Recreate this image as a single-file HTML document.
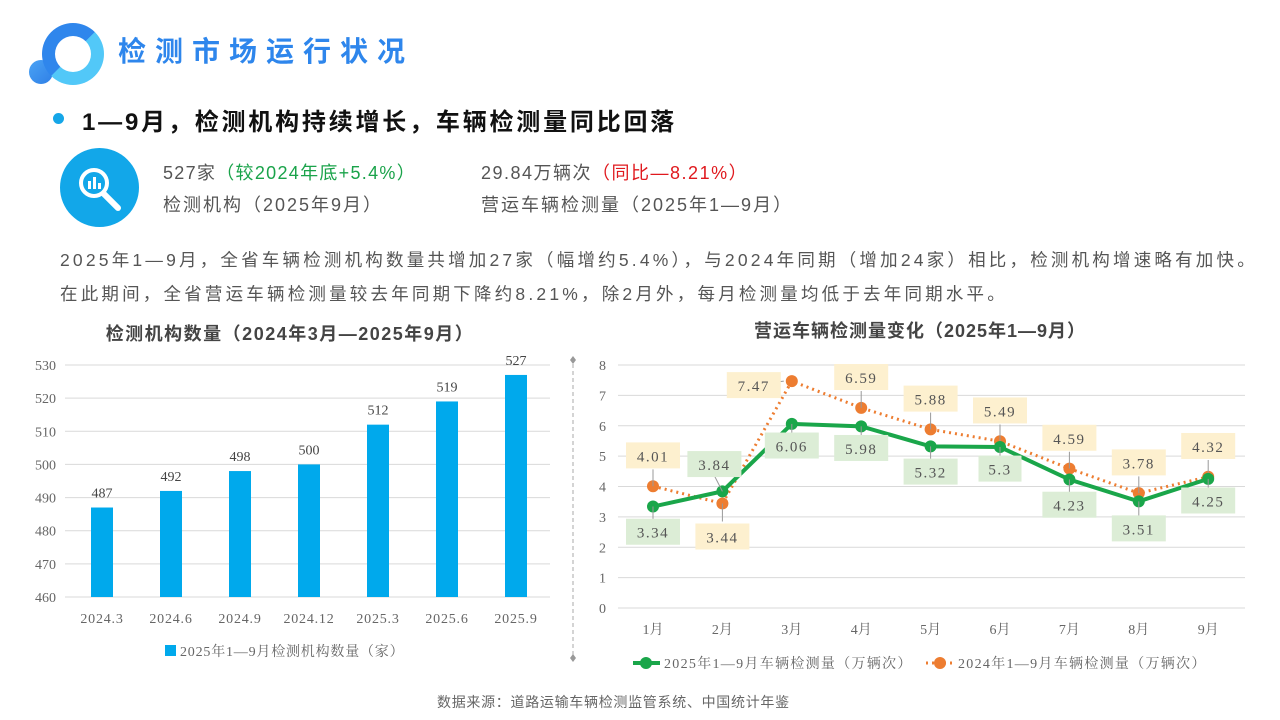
<!DOCTYPE html>
<html><head><meta charset="utf-8">
<style>
body{margin:0;width:1280px;height:720px;background:#fff;position:relative;overflow:hidden;font-family:"Liberation Sans","Noto Sans CJK SC",sans-serif;}
.abs{position:absolute;white-space:nowrap;}
</style></head><body>
<div class="abs" style="left:29px;top:60px;width:24px;height:24px;border-radius:50%;background:linear-gradient(135deg,#4aa3f5,#2f7fe6);"></div>
<div class="abs" style="left:42px;top:23px;width:36px;height:36px;border-radius:50%;border:13px solid #3a9cf0;background:#fff;border-color:#2f86ec #52c8f8 #52c8f8 #2f86ec;"></div>
<div class="abs" style="left:118px;top:30px;font-size:28px;font-weight:bold;color:#2e86ec;letter-spacing:9px;">检测市场运行状况</div>
<div class="abs" style="left:53px;top:113px;width:11px;height:11px;border-radius:50%;background:#15a6e8;"></div>
<div class="abs" style="left:82px;top:102px;font-size:24px;font-weight:bold;color:#111;letter-spacing:2.8px;">1—9月，检测机构持续增长，车辆检测量同比回落</div>
<div class="abs" style="left:60px;top:148px;width:79px;height:79px;border-radius:50%;background:#12a7e9;">
<svg width="79" height="79"><circle cx="34" cy="35" r="13" fill="none" stroke="#fff" stroke-width="4"/><rect x="28" y="33" width="3" height="8" fill="#fff"/><rect x="33" y="29" width="3" height="12" fill="#fff"/><rect x="38" y="35" width="3" height="6" fill="#fff"/><line x1="44" y1="46" x2="58" y2="60" stroke="#fff" stroke-width="6" stroke-linecap="round"/></svg></div>
<div class="abs" style="left:163px;top:159px;font-size:18px;color:#555;letter-spacing:1.3px;">527家<span style="color:#1aa34a">（较2024年底+5.4%）</span></div>
<div class="abs" style="left:163px;top:191px;font-size:18px;color:#555;letter-spacing:2px;">检测机构（2025年9月）</div>
<div class="abs" style="left:481px;top:159px;font-size:18px;color:#555;letter-spacing:1.5px;">29.84万辆次<span style="color:#e0191e">（同比—8.21%）</span></div>
<div class="abs" style="left:481px;top:191px;font-size:18px;color:#555;letter-spacing:2px;">营运车辆检测量（2025年1—9月）</div>
<div class="abs" style="left:60px;top:243px;font-size:17.5px;color:#555;line-height:34px;letter-spacing:3.2px;">2025年1—9月，全省车辆检测机构数量共增加27家（幅增约5.4%），与2024年同期（增加24家）相比，检测机构增速略有加快。<br>在此期间，全省营运车辆检测量较去年同期下降约8.21%，除2月外，每月检测量均低于去年同期水平。</div>
<div class="abs" style="left:437px;top:692px;font-size:14px;color:#666;letter-spacing:0.7px;">数据来源：道路运输车辆检测监管系统、中国统计年鉴</div>

<svg id="bar" class="abs" style="left:0;top:0" width="1280" height="720"></svg>
<script>
const barCats=["2024.3","2024.6","2024.9","2024.12","2025.3","2025.6","2025.9"];
const barVals=[487,492,498,500,512,519,527];
const barTicks=[460,470,480,490,500,510,520,530];
const months=["1月","2月","3月","4月","5月","6月","7月","8月","9月"];
const s2025=[3.34,3.84,6.06,5.98,5.32,5.3,4.23,3.51,4.25];
const s2024=[4.01,3.44,7.47,6.59,5.88,5.49,4.59,3.78,4.32];
const lineTicks=[0,1,2,3,4,5,6,7,8];
const NS="http://www.w3.org/2000/svg";
const svg=document.getElementById('bar');
function el(t,a,txt){const e=document.createElementNS(NS,t);for(const k in a)e.setAttribute(k,a[k]);if(txt!==undefined)e.textContent=txt;svg.appendChild(e);return e;}
const F='"Liberation Serif","Noto Serif CJK SC",serif';
// bar chart
const by=v=>597-(v-460)*(232/70), bx=i=>102+i*69;
let t=el('text',{x:290,y:340,'text-anchor':'middle','font-size':18,'font-weight':'bold',fill:'#444','letter-spacing':1.5,'font-family':'"Liberation Sans","Noto Sans CJK SC",sans-serif'},'检测机构数量（2024年3月—2025年9月）');

barTicks.forEach(v=>{
 let g=el('line',{x1:65,x2:550,y1:by(v),y2:by(v),stroke:'#d9d9d9'});
 let l=el('text',{x:56,y:by(v)+5,'text-anchor':'end','font-size':14,fill:'#666','font-family':F},v);
});
barVals.forEach((v,i)=>{
 let r=el('rect',{x:bx(i)-11,y:by(v),width:22,height:597-by(v),fill:'#00a9ec'});
 let l=el('text',{x:bx(i),y:by(v)-10,'text-anchor':'middle','font-size':14,fill:'#444','font-family':F},v);
 let c=el('text',{x:bx(i),y:623,'text-anchor':'middle','font-size':14,fill:'#666','letter-spacing':0.8,'font-family':F},barCats[i]);
});
let lg=el('rect',{x:165,y:645,width:11,height:11,fill:'#00a9ec'});
lg=el('text',{x:180,y:656,'font-size':14,fill:'#666','letter-spacing':0.8,'font-family':F},'2025年1—9月检测机构数量（家）');
// divider
let d=el('line',{x1:573,x2:573,y1:364,y2:656,stroke:'#aaa','stroke-dasharray':'4,3'});
[360,658].forEach(y=>{let p=el('path',{d:`M573 ${y-4}L576 ${y}L573 ${y+4}L570 ${y}Z`,fill:'#999'});});
// line chart
const ly=v=>608-v*30.375, lx=i=>653+i*69.4;
t=el('text',{x:920,y:337,'text-anchor':'middle','font-size':18,'font-weight':'bold',fill:'#444','letter-spacing':1,'font-family':'"Liberation Sans","Noto Sans CJK SC",sans-serif'},'营运车辆检测量变化（2025年1—9月）');

lineTicks.forEach(v=>{
 let g=el('line',{x1:618,x2:1245,y1:ly(v),y2:ly(v),stroke:'#d9d9d9'});
 let l=el('text',{x:606,y:ly(v)+5,'text-anchor':'end','font-size':14,fill:'#666','font-family':F},v);
});
months.forEach((m,i)=>{let c=el('text',{x:lx(i),y:634,'text-anchor':'middle','font-size':14,fill:'#666','font-family':F},m);});
let p=el('polyline',{points:s2024.map((v,i)=>lx(i)+','+ly(v)).join(' '),fill:'none',stroke:'#ed7d31','stroke-width':3,'stroke-dasharray':'2,4'});
p=el('polyline',{points:s2025.map((v,i)=>lx(i)+','+ly(v)).join(' '),fill:'none',stroke:'#1aa64a','stroke-width':4});
const off25=[28,-26,24,24,28,24,28,30,24], off24=[-28,30,0,-28,-28,-28,-28,-28,-28];
function label(x,y,v,bg,name){
 const w=String(v).length*11+10;
 let r=el('rect',{x:x-w/2,y:y-13,width:w,height:26,fill:bg});
 let tx=el('text',{x:x,y:y+6,'text-anchor':'middle','font-size':15,fill:'#555','letter-spacing':1.5,'font-family':F},v);
}
s2024.forEach((v,i)=>{
 let x=lx(i),y=ly(v);
 let m=el('circle',{cx:x,cy:y,r:6,fill:'#ed7d31'});
 if(i==2){el('line',{x1:x-25,y1:y+2,x2:x-8,y2:y,stroke:'#999'});label(x-38,y+4,v,'#fdf0cf','label-2024');}
 else{el('line',{x1:x,y1:y,x2:x,y2:y+off24[i]*0.6,stroke:'#999'});label(x,y+off24[i]*1.1,v,'#fdf0cf','label-2024');}
});
s2025.forEach((v,i)=>{
 let x=lx(i),y=ly(v);
 let m=el('circle',{cx:x,cy:y,r:6,fill:'#1aa64a'});
 el('line',{x1:x,y1:y,x2:x+(i==1?-8:0),y2:y+off25[i]*0.6,stroke:'#999'});
 label(x+(i==1?-8:0),y+off25[i]*(i==1?1.05:0.9),v,'#dcedd6','label-2025');
});
el('line',{x1:633,x2:660,y1:663,y2:663,stroke:'#1aa64a','stroke-width':4});
let lm=el('circle',{cx:646,cy:663,r:6,fill:'#1aa64a'});
lm=el('text',{x:664,y:668,'font-size':14,fill:'#666','letter-spacing':1.3,'font-family':F},'2025年1—9月车辆检测量（万辆次）');
el('line',{x1:926,x2:955,y1:663,y2:663,stroke:'#ed7d31','stroke-width':3,'stroke-dasharray':'2,4'});
lm=el('circle',{cx:940,cy:663,r:6,fill:'#ed7d31'});
lm=el('text',{x:958,y:668,'font-size':14,fill:'#666','letter-spacing':1.3,'font-family':F},'2024年1—9月车辆检测量（万辆次）');
</script>
</body></html>
